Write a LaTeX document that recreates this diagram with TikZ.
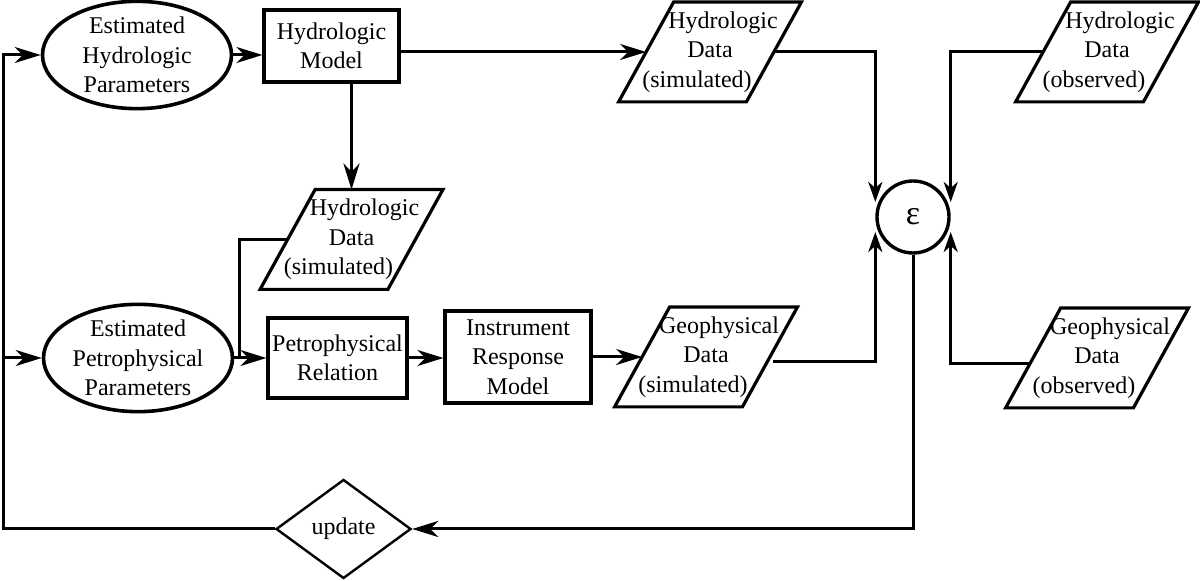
\documentclass[tikz,border=0pt]{standalone}
\usepackage{fontspec}
\setmainfont{Liberation Serif}
\usetikzlibrary{shapes.geometric,arrows.meta}
\begin{document}
\begin{tikzpicture}[x=0.5pt,y=-0.5pt,
  every node/.style={font=\fontsize{12}{14.75}\selectfont, align=center, inner sep=0pt},
  ln/.style={line width=1.5pt},
  arr/.style={ln, -{Stealth[length=13pt,width=8pt,inset=4pt]}},
  sarr/.style={ln, -{Stealth[length=10pt,width=7pt,inset=3pt]}},
  ell/.style={ellipse, draw, line width=1.8pt, minimum width=94.5pt, minimum height=53pt},
  box/.style={rectangle, draw, line width=1.6pt},
  par/.style={rectangle, minimum width=63.5pt, minimum height=49.5pt},
]
\useasboundingbox (0,0) rectangle (1200,581);

\newcommand{\Lone}[1]{\makebox[0pt]{\hspace{13pt}#1}}
\newcommand{\Ltwo}[1]{\makebox[0pt]{#1}}
\newcommand{\Lthree}[1]{\makebox[0pt]{#1\hspace{13pt}}}

\node[ell] (e1) at (137,55) {Estimated\\Hydrologic\\Parameters};
\node[ell] (e2) at (138,358) {Estimated\\Petrophysical\\Parameters};
\node[box, minimum width=67.5pt, minimum height=36pt] (hm) at (331.5,46) {Hydrologic\\Model};
\node[box, minimum width=69.5pt, minimum height=40pt] (pr) at (337.5,358) {Petrophysical\\Relation};
\node[box, minimum width=73pt, minimum height=46pt] (ir) at (518,357) {Instrument\\Response\\Model};

\node[par] (hs1) at (710,52) {\Lone{Hydrologic}\\\Ltwo{Data}\\\Lthree{(simulated)}};
\node[par] (hs2) at (351.5,239.5) {\Lone{Hydrologic}\\\Ltwo{Data}\\\Lthree{(simulated)}};
\node[par] (ho) at (1107,52) {\Lone{Hydrologic}\\\Ltwo{Data}\\\Lthree{(observed)}};
\node[par] (gs) at (706,357) {\Lone{Geophysical}\\\Ltwo{Data}\\\Lthree{(simulated)}};
\node[par] (go) at (1097,358) {\Lone{Geophysical}\\\Ltwo{Data}\\\Lthree{(observed)}};
\foreach \n in {hs1,hs2,ho,gs,go}
  \draw[line width=1.6pt, line join=miter] ([xshift=13.75pt]\n.north west) -- ([xshift=13.75pt]\n.north east)
     -- ([xshift=-13.75pt]\n.south east) -- ([xshift=-13.75pt]\n.south west) -- cycle;

\node[circle, draw, line width=1.7pt, minimum size=36pt, font=\fontsize{17}{19}\selectfont] (eps) at (913,217) {ε};
\node[diamond, draw, line width=1.2pt, minimum width=67.5pt, minimum height=49.5pt] (up) at (343.5,529) {update};

\draw[arr] (e1.east) -- (e1.east -| hm.west);
\draw[arr] (hm.east |- hs1.west) -- (hs1.west);
\draw[arr] (hm.south -| hs2.north) -- (hs2.north);
\coordinate (j) at (239,358);
\draw[ln] (hs2.west) -| (j);
\draw[arr] (e2.east) -- (pr.west);
\draw[arr] (pr.east) -- (pr.east -| ir.west);
\draw[arr] (ir.east |- gs.west) -- (gs.west);
\draw[sarr] (hs1.east) -| ([yshift=7.5pt]eps.west);
\draw[sarr] ([shift={(1.5pt,-2.5pt)}]gs.east) -| ([yshift=-7.5pt]eps.west);
\draw[sarr] (ho.west) -| ([yshift=7.5pt]eps.east);
\draw[sarr] ([shift={(-1.7pt,-3pt)}]go.west) -| ([yshift=-7.5pt]eps.east);
\draw[arr] (eps.south) |- (up.east);
\coordinate (fb) at (3,529);
\draw[arr] (up.west) -- (fb) |- (e1.west);
\draw[arr] (fb |- e2.west) -- (e2.west);
\end{tikzpicture}
\end{document}
